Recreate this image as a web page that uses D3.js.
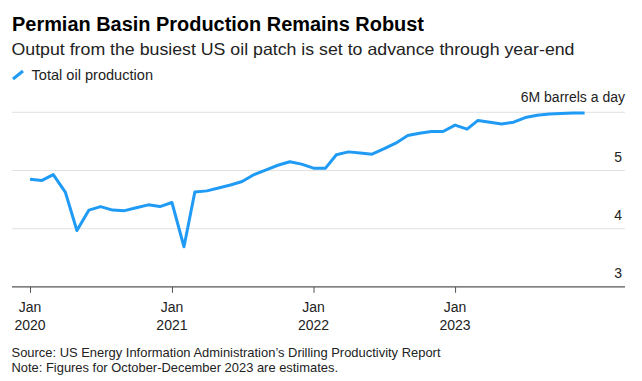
<!DOCTYPE html>
<html><head><meta charset="utf-8">
<script src="https://cdn.jsdelivr.net/npm/d3@7"></script>
<style>
html,body{margin:0;padding:0;background:#fff;}
svg{display:block;font-family:"Liberation Sans",Arial,sans-serif;}
</style></head>
<body>
<svg id="c" width="642" height="381"></svg>
<script>
const startMonth = "2020-01";
const production = [4.85,4.83,4.93,4.63,3.97,4.32,4.38,4.32,4.31,4.36,4.41,4.38,
  4.45,3.69,4.63,4.65,4.70,4.75,4.81,4.93,5.01,5.09,5.15,5.11,
  5.04,5.04,5.27,5.32,5.30,5.28,5.37,5.47,5.60,5.64,5.67,5.67,
  5.78,5.71,5.86,5.83,5.80,5.83,5.91,5.95,5.97,5.98,5.99,5.99];
const yTicks = [3,4,5,6];
const xTickYears = [2020,2021,2022,2023];
const title = "Permian Basin Production Remains Robust";
const subtitle = "Output from the busiest US oil patch is set to advance through year-end";
const legendLabel = "Total oil production";
const unitLabel = "6M barrels a day";
const source = "Source: US Energy Information Administration’s Drilling Productivity Report";
const note = "Note: Figures for October-December 2023 are estimates.";

const svg = d3.select("#c");
const parse = d3.timeParse("%Y-%m");
const t0 = parse(startMonth);
const data = production.map((v,i)=>({date:d3.timeMonth.offset(t0,i), value:v}));

const mLeft = 12, mRight = 625, mTop = 112.3, mBottom = 286.9;
const x = d3.scaleTime().domain([t0, d3.timeMonth.offset(t0,47)]).range([30, 584.6]);
const y = d3.scaleLinear().domain([3,6]).range([mBottom, mTop]);

// gridlines
svg.append("g").selectAll("line").data(yTicks.filter(d=>d>3)).join("line")
  .attr("x1",mLeft).attr("x2",mRight)
  .attr("y1",d=>y(d)).attr("y2",d=>y(d))
  .attr("stroke","#e2e2e2").attr("stroke-width",1);

// y labels
svg.append("g").selectAll("text").data(yTicks.filter(d=>d<6)).join("text")
  .attr("x",622).attr("y",d=>y(d)-9)
  .attr("text-anchor","end").attr("font-size",14).attr("fill","#222")
  .text(d=>d);
svg.append("text").attr("x",625).attr("y",y(6)-10)
  .attr("text-anchor","end").attr("font-size",14).attr("fill","#222").text(unitLabel);

// x axis
const xAxis = d3.axisBottom(x)
  .tickValues(xTickYears.map(yr=>new Date(yr,0,1)))
  .tickSize(6).tickFormat("");
const gx = svg.append("g").attr("transform",`translate(0,${mBottom})`).call(xAxis);
gx.select(".domain").remove();
gx.selectAll(".tick line").attr("stroke","#555").attr("stroke-width",1);
svg.append("line").attr("x1",mLeft).attr("x2",mRight).attr("y1",mBottom).attr("y2",mBottom)
  .attr("stroke","#555").attr("stroke-width",1.2);
const lbl = svg.append("g").selectAll("g").data(xTickYears).join("g")
  .attr("transform",d=>`translate(${x(new Date(d,0,1))},0)`);
lbl.append("text").attr("y",311.5).attr("text-anchor","middle").attr("font-size",14).attr("fill","#222").text("Jan");
lbl.append("text").attr("y",329.5).attr("text-anchor","middle").attr("font-size",14).attr("fill","#222").text(d=>d);

// line
svg.append("path").datum(data)
  .attr("fill","none").attr("stroke","#1f9bf5").attr("stroke-width",3)
  .attr("stroke-linejoin","round").attr("stroke-linecap","butt")
  .attr("d", d3.line().x(d=>x(d.date)).y(d=>y(d.value)));

// titles
svg.append("text").attr("x",12).attr("y",30.5).attr("font-size",19.5).attr("font-weight","bold").attr("fill","#000")
  .attr("textLength",412).attr("lengthAdjust","spacingAndGlyphs").text(title);
svg.append("text").attr("x",11.5).attr("y",55).attr("font-size",16.5).attr("fill","#222")
  .attr("textLength",563).attr("lengthAdjust","spacingAndGlyphs").text(subtitle);
svg.append("line").attr("x1",13).attr("y1",79).attr("x2",23).attr("y2",71)
  .attr("stroke","#1f9bf5").attr("stroke-width",3);
svg.append("text").attr("x",31.5).attr("y",80).attr("font-size",14.5).attr("fill","#222")
  .attr("textLength",121.5).attr("lengthAdjust","spacingAndGlyphs").text(legendLabel);

// footer
svg.append("text").attr("x",11.5).attr("y",356.5).attr("font-size",13).attr("fill","#222")
  .attr("textLength",429).attr("lengthAdjust","spacingAndGlyphs").text(source);
svg.append("text").attr("x",11.5).attr("y",371.5).attr("font-size",13).attr("fill","#222")
  .attr("textLength",326.5).attr("lengthAdjust","spacingAndGlyphs").text(note);
</script>
</body></html>
